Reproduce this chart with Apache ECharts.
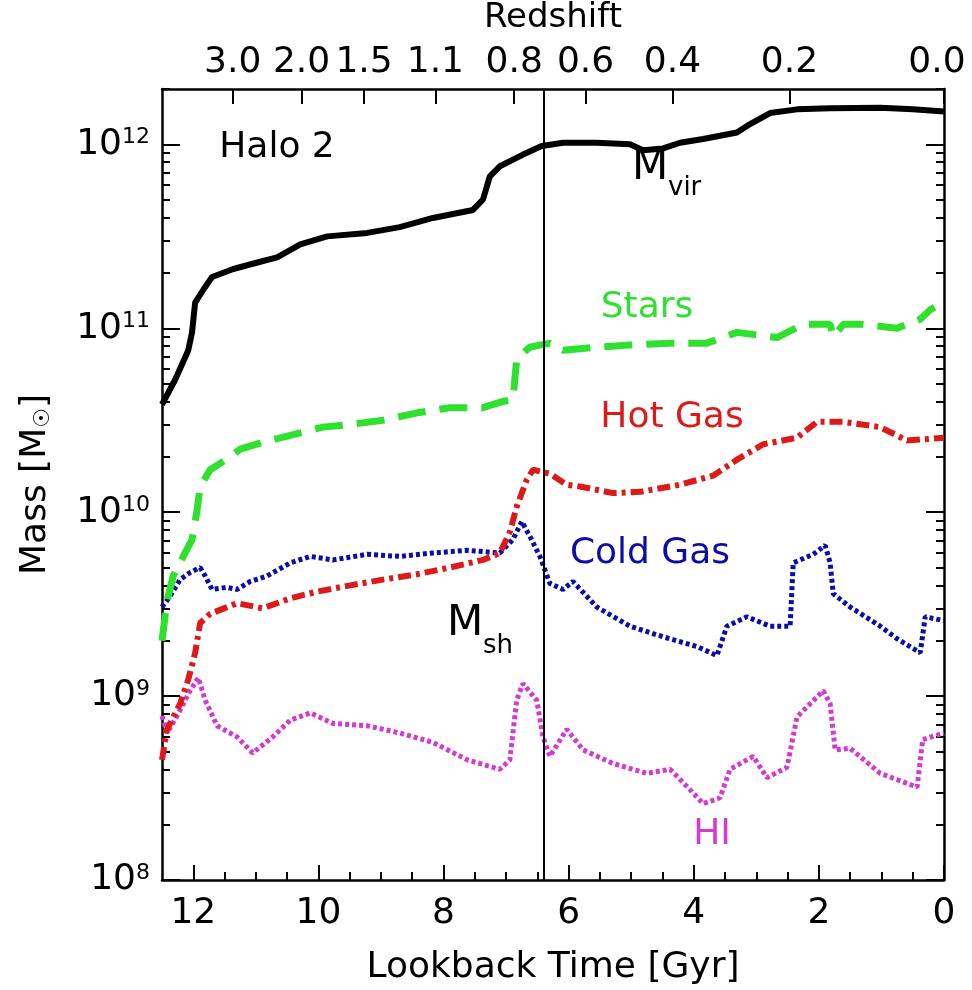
<!DOCTYPE html>
<html>
<head>
<meta charset="utf-8">
<title>Halo 2 mass history</title>
<script src="https://cdn.jsdelivr.net/npm/echarts@6/dist/echarts.min.js"></script>
<style>
html, body { margin: 0; padding: 0; background: #fff; }
#chart { width: 972px; height: 990px; }
</style>
</head>
<body>
<div id="chart"></div>
<script>
// lookback time [Gyr] and mass [Msun]
var mvirTime = [12.5, 12.29, 12.08, 12.02, 11.97, 11.84, 11.70, 11.36, 10.93, 10.66, 10.29, 9.86, 9.22, 8.70, 8.17, 7.53, 7.37, 7.26, 7.10, 6.73, 6.43, 6.09, 5.55, 5.02, 4.81, 4.49, 4.22, 3.85, 3.31, 3.10, 2.78, 2.35, 1.82, 1.02, 0.50, 0.0];
var mvirMass = [3.85e10, 5.25e10, 7.6e10, 9.5e10, 1.38e11, 1.62e11, 1.9e11, 2.1e11, 2.3e11, 2.43e11, 2.86e11, 3.16e11, 3.3e11, 3.55e11, 3.98e11, 4.4e11, 5.0e11, 6.7e11, 7.6e11, 8.8e11, 9.8e11, 1.02e12, 1.02e12, 1.0e12, 9.3e11, 9.5e11, 1.02e12, 1.07e12, 1.16e12, 1.29e12, 1.48e12, 1.55e12, 1.57e12, 1.58e12, 1.55e12, 1.51e12];

var starTime = [12.5, 12.42, 12.32, 12.16, 12.02, 11.94, 11.89, 11.73, 11.41, 11.25, 10.89, 10.29, 9.93, 9.49, 8.97, 8.42, 7.90, 7.37, 7.05, 6.89, 6.83, 6.62, 6.30, 6.09, 5.55, 5.02, 4.38, 3.79, 3.31, 2.67, 2.25, 1.82, 1.77, 1.61, 1.29, 0.75, 0.38, 0.22, 0.15];
var starMass = [2.0e9, 3.3e9, 4.5e9, 5.75e9, 7.1e9, 1.02e10, 1.38e10, 1.7e10, 2.0e10, 2.2e10, 2.4e10, 2.7e10, 2.9e10, 3.0e10, 3.16e10, 3.47e10, 3.7e10, 3.7e10, 4.0e10, 4.1e10, 6.8e10, 7.9e10, 8.3e10, 7.6e10, 7.9e10, 8.1e10, 8.3e10, 8.3e10, 9.5e10, 8.9e10, 1.05e11, 1.05e11, 9.0e10, 1.05e11, 1.05e11, 1.0e11, 1.12e11, 1.26e11, 1.3e11];

var hotTime = [12.5, 12.42, 12.21, 12.08, 11.97, 11.89, 11.73, 11.30, 10.89, 10.45, 10.02, 9.49, 8.97, 8.42, 7.90, 7.37, 7.10, 6.94, 6.83, 6.67, 6.57, 6.30, 6.03, 5.82, 5.29, 4.86, 4.22, 3.69, 3.31, 2.89, 2.35, 2.03, 1.61, 1.02, 0.59, 0.0];
var hotMass = [4.5e8, 6.6e8, 9.1e8, 1.23e9, 1.72e9, 2.5e9, 2.8e9, 3.2e9, 3.0e9, 3.4e9, 3.7e9, 4.0e9, 4.3e9, 4.6e9, 5.0e9, 5.5e9, 6.0e9, 7.8e9, 1.07e10, 1.5e10, 1.7e10, 1.62e10, 1.41e10, 1.38e10, 1.27e10, 1.29e10, 1.41e10, 1.58e10, 1.93e10, 2.34e10, 2.54e10, 3.1e10, 3.1e10, 2.9e10, 2.45e10, 2.54e10];

var coldTime = [12.5, 12.37, 12.21, 12.05, 11.89, 11.81, 11.70, 11.46, 11.30, 11.09, 10.82, 10.45, 10.13, 9.77, 9.22, 8.70, 8.17, 7.62, 7.10, 6.89, 6.75, 6.62, 6.46, 6.30, 6.09, 5.93, 5.55, 5.02, 4.49, 3.95, 3.63, 3.47, 3.15, 2.78, 2.46, 2.41, 2.09, 1.90, 1.82, 1.77, 1.50, 1.02, 0.75, 0.38, 0.30, 0.0];
var coldMass = [3.05e9, 3.5e9, 4.3e9, 4.7e9, 5.0e9, 4.5e9, 3.8e9, 3.9e9, 3.8e9, 4.2e9, 4.5e9, 5.3e9, 5.75e9, 5.5e9, 5.9e9, 5.75e9, 6.0e9, 6.2e9, 6.0e9, 7.1e9, 8.9e9, 7.4e9, 5.75e9, 4.1e9, 3.8e9, 4.2e9, 3.05e9, 2.4e9, 2.1e9, 1.86e9, 1.66e9, 2.4e9, 2.7e9, 2.4e9, 2.4e9, 5.3e9, 5.9e9, 6.6e9, 5.3e9, 3.6e9, 3.05e9, 2.4e9, 2.05e9, 1.72e9, 2.7e9, 2.57e9];

var hiTime = [12.5, 12.42, 12.26, 12.05, 11.92, 11.81, 11.62, 11.30, 11.05, 10.73, 10.45, 10.13, 9.77, 9.22, 8.70, 8.17, 7.62, 7.10, 6.94, 6.83, 6.73, 6.51, 6.41, 6.30, 6.03, 5.77, 5.29, 4.75, 4.38, 4.06, 3.85, 3.58, 3.42, 3.05, 2.83, 2.51, 2.35, 1.93, 1.82, 1.74, 1.50, 1.02, 0.43, 0.34, 0.0];
var hiMass = [7.8e8, 6.3e8, 7.8e8, 1.07e9, 1.26e9, 9.5e8, 6.9e8, 6.0e8, 4.9e8, 6.0e8, 7.4e8, 8.1e8, 7.1e8, 6.9e8, 6.3e8, 5.6e8, 4.5e8, 4.0e8, 4.5e8, 9.5e8, 1.17e9, 9.5e8, 6.0e8, 4.7e8, 6.6e8, 5.1e8, 4.3e8, 3.8e8, 4.0e8, 3.1e8, 2.6e8, 2.8e8, 4.0e8, 4.7e8, 3.6e8, 4.1e8, 7.7e8, 1.07e9, 9.1e8, 5.1e8, 5.2e8, 3.8e8, 3.2e8, 5.8e8, 6.3e8];

// vertical marker (z ~ 0.7)
var markerTime = 6.4;

// top axis: redshift labels at their lookback times
var redshiftLabels = ['3.0', '2.0', '1.5', '1.1', '0.8', '0.6', '0.4', '0.2', '0.0'];
var redshiftTimes = [11.37, 10.27, 9.27, 8.13, 6.87, 5.73, 4.34, 2.47, 0.0];

// tick values
var timeTicks = [0, 2, 4, 6, 8, 10, 12];
var timeMinorTicks = [0.5, 1, 1.5, 2.5, 3, 3.5, 4.5, 5, 5.5, 6.5, 7, 7.5, 8.5, 9, 9.5, 10.5, 11, 11.5];
var massTicks = [1e8, 1e9, 1e10, 1e11, 1e12];
var massMinorTicks = [];
for (var d = 8; d <= 12; d++) {
    for (var k = 2; k <= 9; k++) {
        if (k * Math.pow(10, d) <= 2e12) massMinorTicks.push(k * Math.pow(10, d));
    }
}

var FONT = 'DejaVu Sans';
var GREEN = '#2fe02f', RED = '#dd1a1a', BLUE = '#0c0ca8', MAGENTA = '#d23ad2';

function pairs(t, m) {
    var out = [];
    for (var i = 0; i < t.length; i++) out.push([t[i], m[i]]);
    return out;
}

function tenPow(v) {
    return '{b|10}{s|' + Math.round(Math.log10(v)) + '}';
}

var chart = echarts.init(document.getElementById('chart'));

var baseX = { type: 'value', min: 0, max: 12.5, inverse: true, splitLine: { show: false } };
var baseY = { type: 'log', logBase: 10, min: 1e8, max: 2e12, splitLine: { show: false } };
var axisLine = { show: true, onZero: false, lineStyle: { color: '#000', width: 2.5 } };
var noLine = { show: false, onZero: false };

function line(name, t, m, color, width, dash) {
    return {
        name: name, type: 'line', xAxisIndex: 0, yAxisIndex: 0,
        data: pairs(t, m), symbol: 'none', smooth: false,
        emphasis: { disabled: true },
        lineStyle: { color: color, width: width, type: dash, cap: 'butt' }
    };
}

var series = [
    line('HI', hiTime, hiMass, MAGENTA, 5, [4, 3]),
    line('Cold Gas', coldTime, coldMass, BLUE, 5, [4, 3]),
    line('Hot Gas', hotTime, hotMass, RED, 6, [13, 5, 4, 5]),
    line('Stars', starTime, starMass, GREEN, 7, [28, 14]),
    line('Mvir', mvirTime, mvirMass, '#000', 6, 'solid')
];
series[4].markLine = {
    silent: true, symbol: ['none', 'none'], label: { show: false },
    lineStyle: { color: '#000', width: 2, type: 'solid' },
    data: [{ xAxis: markerTime }]
};

var option = {
    backgroundColor: '#fff',
    animation: false,
    grid: { left: 162, right: 28, top: 89, bottom: 110, outerBoundsMode: 'none', containLabel: false },
    xAxis: [
        Object.assign({}, baseX, {
            position: 'bottom',
            name: 'Lookback Time [Gyr]', nameLocation: 'middle', nameGap: 70,
            nameTextStyle: { fontFamily: FONT, fontSize: 36, color: '#000' },
            axisLine: axisLine,
            axisTick: { inside: true, length: 15, customValues: timeTicks, lineStyle: { color: '#000', width: 2 } },
            axisLabel: { customValues: timeTicks, margin: 16, fontFamily: FONT, fontSize: 36, color: '#000' }
        }),
        Object.assign({}, baseX, {
            position: 'bottom',
            axisLine: noLine,
            axisTick: { inside: true, length: 8, customValues: timeMinorTicks, lineStyle: { color: '#000', width: 2 } },
            axisLabel: { show: false }
        }),
        Object.assign({}, baseX, {
            position: 'top',
            name: 'Redshift', nameLocation: 'middle', nameGap: 54,
            nameTextStyle: { fontFamily: FONT, fontSize: 34, color: '#000' },
            axisLine: axisLine,
            axisTick: { inside: true, length: 15, customValues: redshiftTimes, lineStyle: { color: '#000', width: 2 } },
            axisLabel: {
                customValues: redshiftTimes, margin: 8, fontFamily: FONT, fontSize: 36, color: '#000',
                formatter: function (v) {
                    for (var i = 0; i < redshiftTimes.length; i++) {
                        if (Math.abs(redshiftTimes[i] - v) < 1e-6) {
                            // last label sits at the right edge, nudge it inward
                            return v === 0 ? '{e|' + redshiftLabels[i] + '}' : redshiftLabels[i];
                        }
                    }
                    return '';
                },
                rich: { e: { fontFamily: FONT, fontSize: 36, color: '#000', padding: [0, 14, 0, 0] } }
            }
        })
    ],
    yAxis: [
        Object.assign({}, baseY, {
            position: 'left',
            name: 'Mass [M{sub|☉}]', nameLocation: 'middle', nameGap: 108, nameRotate: 90,
            nameTextStyle: {
                fontFamily: FONT, fontSize: 36, color: '#000',
                rich: { sub: { fontFamily: FONT, fontSize: 22, color: '#000', verticalAlign: 'bottom' } }
            },
            axisLine: axisLine,
            axisTick: { inside: true, length: 18, customValues: massTicks, lineStyle: { color: '#000', width: 2 } },
            axisLabel: {
                customValues: massTicks, margin: 12, formatter: tenPow,
                rich: {
                    b: { fontFamily: FONT, fontSize: 36, color: '#000' },
                    s: { fontFamily: FONT, fontSize: 22, color: '#000', verticalAlign: 'top' }
                }
            }
        }),
        Object.assign({}, baseY, {
            position: 'left',
            axisLine: noLine,
            axisTick: { inside: true, length: 8, customValues: massMinorTicks, lineStyle: { color: '#000', width: 2 } },
            axisLabel: { show: false }
        }),
        Object.assign({}, baseY, {
            position: 'right',
            axisLine: axisLine,
            axisTick: { inside: true, length: 18, customValues: massTicks, lineStyle: { color: '#000', width: 2 } },
            axisLabel: { show: false }
        }),
        Object.assign({}, baseY, {
            position: 'right',
            axisLine: noLine,
            axisTick: { inside: true, length: 8, customValues: massMinorTicks, lineStyle: { color: '#000', width: 2 } },
            axisLabel: { show: false }
        })
    ],
    series: series,
    graphic: [
        { type: 'text', x: 277, y: 148, style: { text: 'Halo 2', font: '36px "DejaVu Sans"', fill: '#000', align: 'center', verticalAlign: 'middle' } },
        { type: 'text', x: 650, y: 168, style: { text: 'M', font: '42px "DejaVu Sans"', fill: '#000', align: 'center', verticalAlign: 'middle' } },
        { type: 'text', x: 668, y: 188, style: { text: 'vir', font: '26px "DejaVu Sans"', fill: '#000', align: 'left', verticalAlign: 'middle' } },
        { type: 'text', x: 647, y: 308, style: { text: 'Stars', font: '36px "DejaVu Sans"', fill: GREEN, align: 'center', verticalAlign: 'middle' } },
        { type: 'text', x: 672, y: 418, style: { text: 'Hot Gas', font: '36px "DejaVu Sans"', fill: RED, align: 'center', verticalAlign: 'middle' } },
        { type: 'text', x: 650, y: 554, style: { text: 'Cold Gas', font: '36px "DejaVu Sans"', fill: BLUE, align: 'center', verticalAlign: 'middle' } },
        { type: 'text', x: 465, y: 624, style: { text: 'M', font: '42px "DejaVu Sans"', fill: '#000', align: 'center', verticalAlign: 'middle' } },
        { type: 'text', x: 483, y: 646, style: { text: 'sh', font: '26px "DejaVu Sans"', fill: '#000', align: 'left', verticalAlign: 'middle' } },
        { type: 'text', x: 712, y: 835, style: { text: 'HI', font: '36px "DejaVu Sans"', fill: MAGENTA, align: 'center', verticalAlign: 'middle' } }
    ]
};

chart.setOption(option);
</script>
</body>
</html>
